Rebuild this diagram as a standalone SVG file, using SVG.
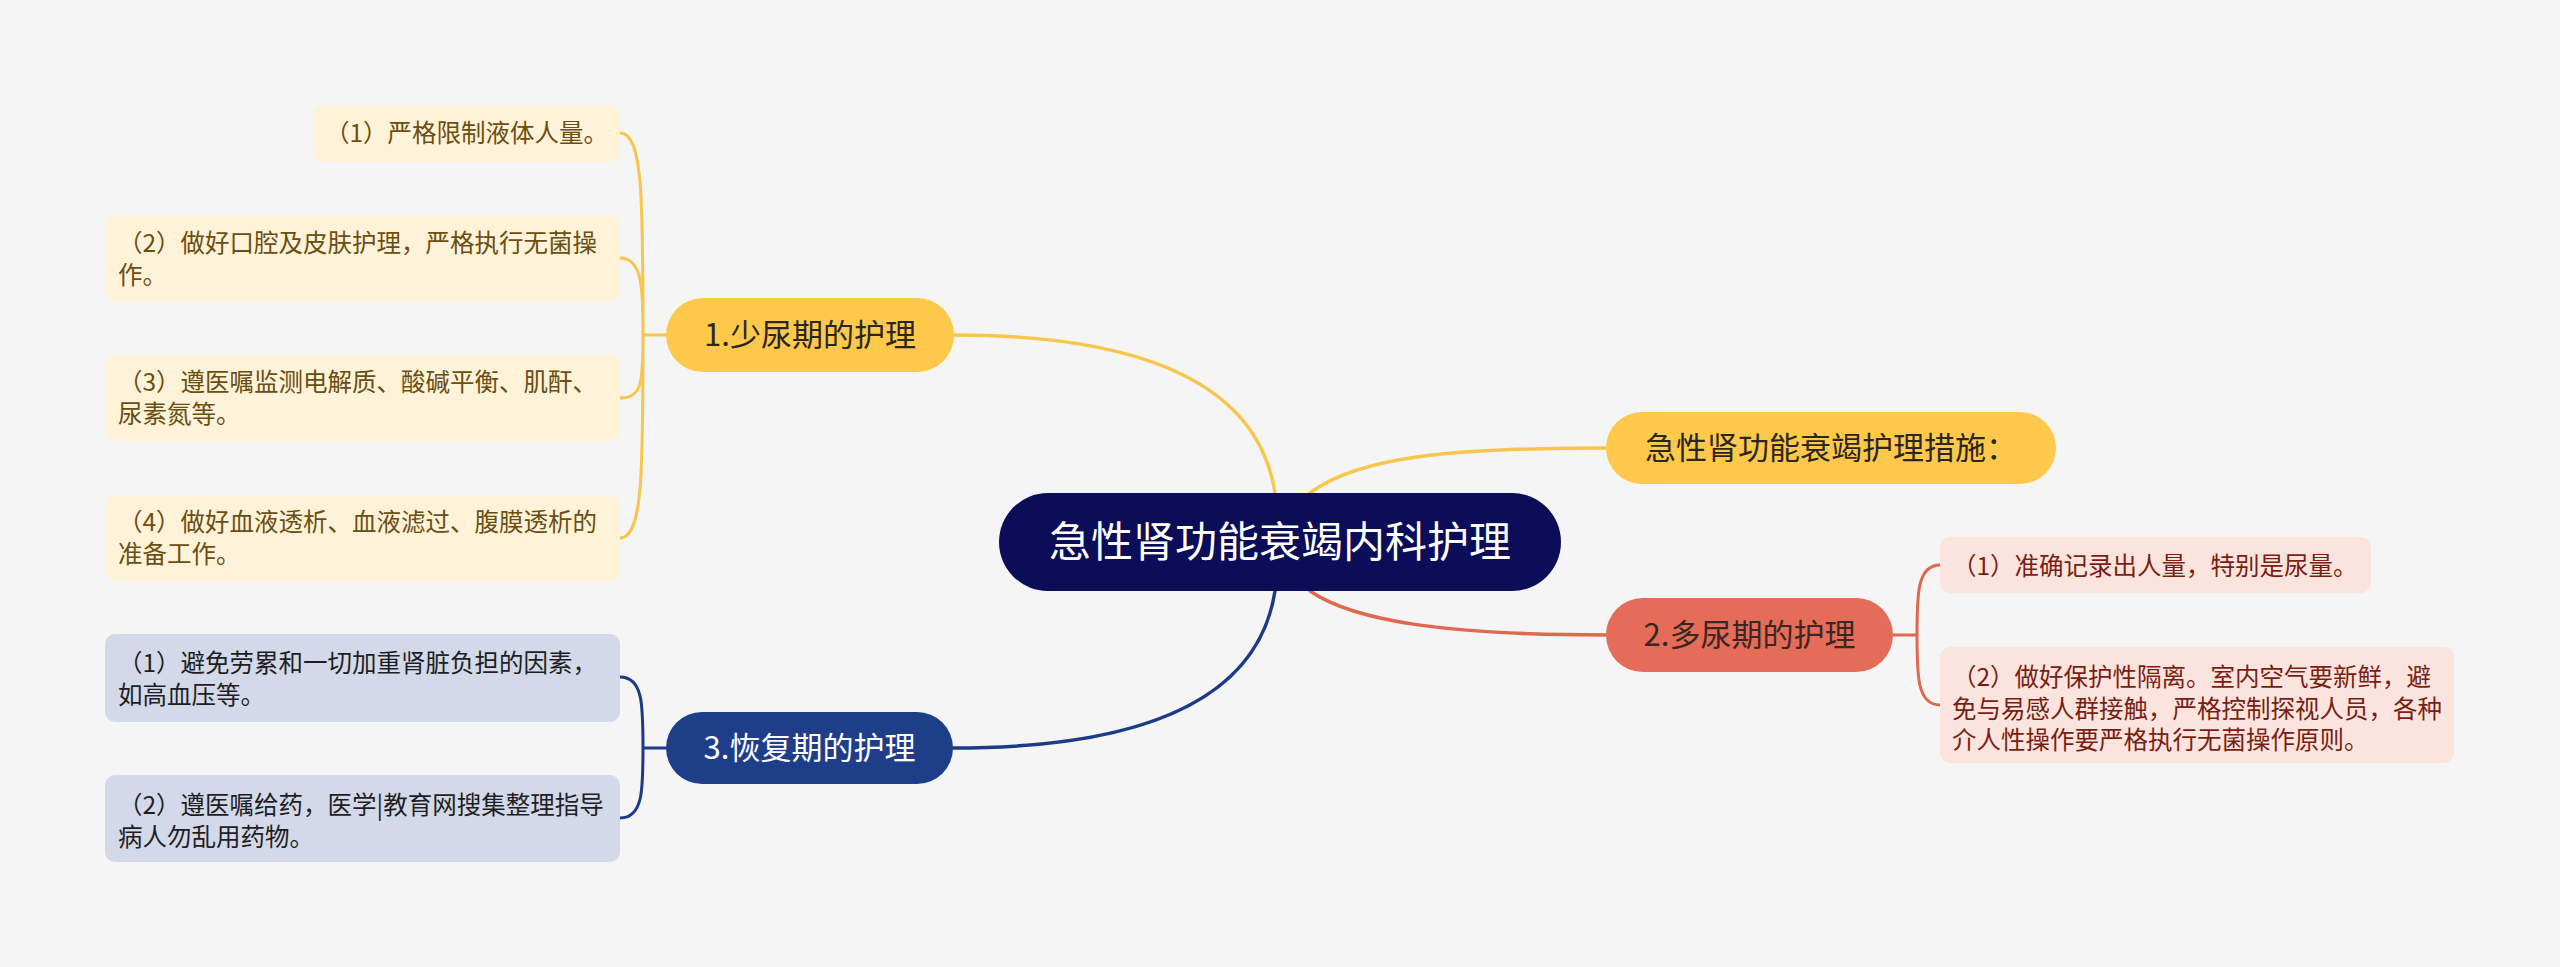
<svg xmlns="http://www.w3.org/2000/svg" width="2560" height="967" viewBox="0 0 2560 967">
<style>
text{font-family:"Noto Sans CJK SC","Noto Sans",sans-serif;}
.ct{font-size:42px;fill:#ffffff;text-anchor:middle;}
.bt{font-size:31px;text-anchor:middle;}
.lt{font-size:24.5px;}
.y{stroke:#F8C64A;}
.r{stroke:#E0684F;}
.b{stroke:#1D3A86;}
.c path{fill:none;stroke-width:3.5;stroke-linecap:round;}
.c .k{stroke-width:3;}
</style>
<rect width="2560" height="967" fill="#F5F5F5"/>
<g id="connectors" class="c">
  <path class="y" d="M1275,493 C1255,364 1100,335 954,335"/>
  <path class="y" d="M1310,493 C1360,455 1460,448 1606,448"/>
  <path class="r" d="M1310,591 C1355,622 1450,635 1606,635"/>
  <path class="b" d="M1275,591 C1255,720 1100,748 953,748"/>
  <path class="y k" d="M666,335 H643 M643,335 C643,200 643,133 620,133 M643,335 C643,290 643,258 620,258 M643,335 C643,380 643,398 620,398 M643,335 C643,470 643,538 620,538"/>
  <path class="b k" d="M666,748 H643 M643,748 C643,705 643,677 620,677 M643,748 C643,790 643,818 620,818"/>
  <path class="r k" d="M1893,635 H1917 M1917,635 C1917,595 1917,565 1940,565 M1917,635 C1917,675 1917,705 1940,705"/>
</g>
<g id="center">
  <rect x="999" y="493" width="562" height="98" rx="49" fill="#0B0D58"/>
  <text class="ct" x="1280" y="557">急性肾功能衰竭内科护理</text>
</g>
<g id="branch1">
  <rect x="666" y="298" width="288" height="74" rx="37" fill="#FEC84B"/>
  <text class="bt" x="810" y="346" fill="#2B2620">1.少尿期的护理</text>
</g>
<g id="branch0">
  <rect x="1606" y="412" width="450" height="72" rx="36" fill="#FEC84B"/>
  <text class="bt" x="1831" y="459" fill="#2B2620">急性肾功能衰竭护理措施：</text>
</g>
<g id="branch2">
  <rect x="1606" y="598" width="287" height="74" rx="37" fill="#E46C58"/>
  <text class="bt" x="1749.5" y="646" fill="#3A2622">2.多尿期的护理</text>
</g>
<g id="branch3">
  <rect x="666" y="712" width="287" height="72" rx="36" fill="#1F3E8A"/>
  <text class="bt" x="809.5" y="759" fill="#ffffff">3.恢复期的护理</text>
</g>
<g id="leaf1-1">
  <rect x="313" y="105" width="307" height="57" rx="10" fill="#FEF2D8"/>
  <text class="lt" x="325" y="142" fill="#6B4E10">（1）严格限制液体人量。</text>
</g>
<g id="leaf1-2">
  <rect x="105" y="215" width="515" height="86" rx="10" fill="#FEF2D8"/>
  <text class="lt" fill="#6B4E10"><tspan x="118" y="252">（2）做好口腔及皮肤护理，严格执行无菌操</tspan><tspan x="118" y="284">作。</tspan></text>
</g>
<g id="leaf1-3">
  <rect x="105" y="355" width="515" height="86" rx="10" fill="#FEF2D8"/>
  <text class="lt" fill="#6B4E10"><tspan x="118" y="391">（3）遵医嘱监测电解质、酸碱平衡、肌酐、</tspan><tspan x="118" y="423">尿素氮等。</tspan></text>
</g>
<g id="leaf1-4">
  <rect x="105" y="495" width="515" height="86" rx="10" fill="#FEF2D8"/>
  <text class="lt" fill="#6B4E10"><tspan x="118" y="531">（4）做好血液透析、血液滤过、腹膜透析的</tspan><tspan x="118" y="563">准备工作。</tspan></text>
</g>
<g id="leaf2-1">
  <rect x="1940" y="537" width="431" height="56" rx="10" fill="#FBE3DE"/>
  <text class="lt" x="1952" y="575" fill="#7A1E12">（1）准确记录出人量，特别是尿量。</text>
</g>
<g id="leaf2-2">
  <rect x="1940" y="647" width="514" height="116" rx="10" fill="#FBE3DE"/>
  <text class="lt" fill="#7A1E12"><tspan x="1952" y="686">（2）做好保护性隔离。室内空气要新鲜，避</tspan><tspan x="1952" y="718">免与易感人群接触，严格控制探视人员，各种</tspan><tspan x="1952" y="749">介人性操作要严格执行无菌操作原则。</tspan></text>
</g>
<g id="leaf3-1">
  <rect x="105" y="634" width="515" height="88" rx="10" fill="#D3D9E8"/>
  <text class="lt" fill="#1E1E24"><tspan x="118" y="672">（1）避免劳累和一切加重肾脏负担的因素，</tspan><tspan x="118" y="704">如高血压等。</tspan></text>
</g>
<g id="leaf3-2">
  <rect x="105" y="775" width="515" height="87" rx="10" fill="#D3D9E8"/>
  <text class="lt" fill="#1E1E24"><tspan x="118" y="814">（2）遵医嘱给药，医学|教育网搜集整理指导</tspan><tspan x="118" y="846">病人勿乱用药物。</tspan></text>
</g>
</svg>
